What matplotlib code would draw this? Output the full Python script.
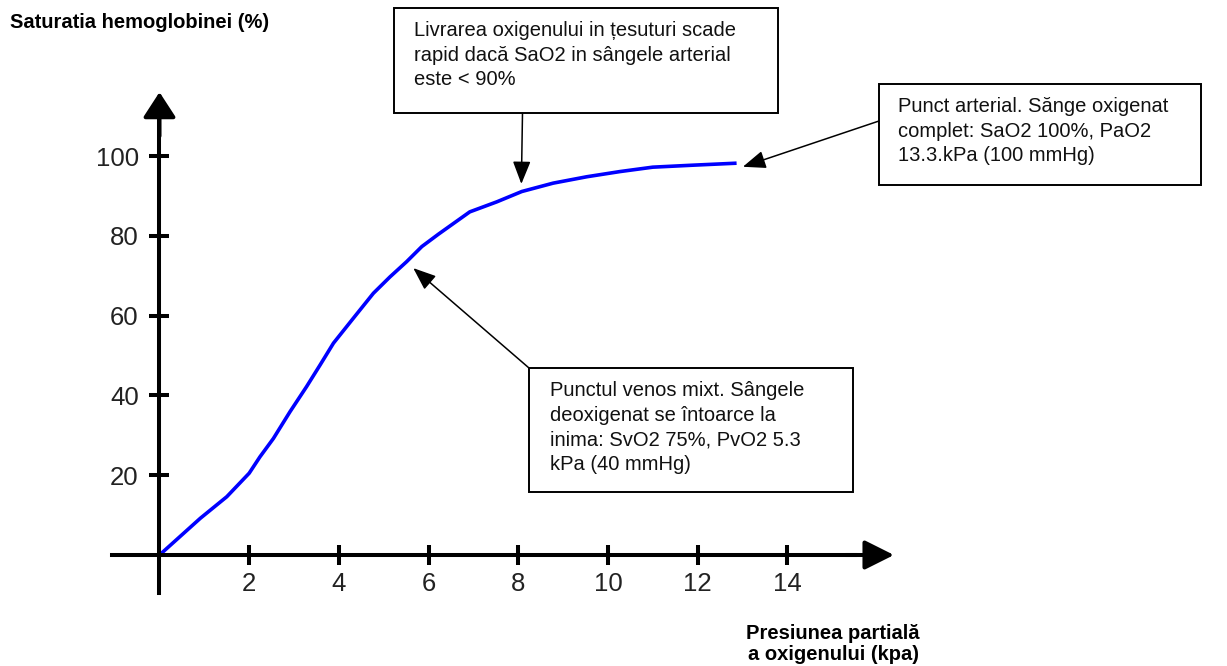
import matplotlib
matplotlib.use('Agg')
import matplotlib.pyplot as plt
from matplotlib.patches import Rectangle

# curba de disociere a oxihemoglobinei
po2 = [0, 0.91, 1.50, 2.0, 2.24, 2.54, 2.91, 3.28, 3.58, 3.88, 4.32, 4.77, 5.14,
       5.51, 5.85, 6.22, 6.92, 7.52, 8.08, 8.78, 9.53, 10.27, 11.0, 11.9, 12.87]
sat = [0, 9.2, 14.6, 20.5, 24.6, 29.2, 35.9, 42.2, 47.6, 53.1, 59.3, 65.6, 69.7,
       73.5, 77.3, 80.4, 86.0, 88.5, 91.1, 93.2, 94.8, 96.1, 97.2, 97.7, 98.2]

xticks = [2, 4, 6, 8, 10, 12, 14]
yticks = [20, 40, 60, 80, 100]

ylabel = 'Saturatia hemoglobinei (%)'
xlabel = 'Presiunea partială\na oxigenului (kpa)'
txt_sus = 'Livrarea oxigenului in țesuturi scade\nrapid dacă SaO2 in sângele arterial\neste < 90%'
txt_art = 'Punct arterial. Sănge oxigenat\ncomplet: SaO2 100%, PaO2\n13.3.kPa (100 mmHg)'
txt_ven = 'Punctul venos mixt. Sângele\ndeoxigenat se întoarce la\ninima: SvO2 75%, PvO2 5.3\nkPa (40 mmHg)'

plt.rcParams['font.family'] = ['Liberation Sans', 'DejaVu Sans']

W, H = 1227, 666
fig = plt.figure(figsize=(W / 100, H / 100), dpi=100)
ax = fig.add_axes([0, 0, 1, 1])
ax.patch.set_alpha(0)

# limite alese ca sa potriveasca pozitia axelor din figura
x0, sx = 159.5, 44.84
y0, sy = 555, 3.99
ax.set_xlim(-x0 / sx, (W - x0) / sx)
ax.set_ylim(-(H - y0) / sy, y0 / sy)


def fx(px):
    return px / W


def fy(py):
    return 1 - py / H


lw_ax = 2.9
for s in ['top', 'right']:
    ax.spines[s].set_visible(False)
ax.spines['left'].set_position(('data', 0))
ax.spines['bottom'].set_position(('data', 0))
ax.spines['left'].set_bounds(-9.6, 110)
ax.spines['bottom'].set_bounds(-1.05, 15.5)
ax.spines['left'].set_linewidth(lw_ax)
ax.spines['bottom'].set_linewidth(lw_ax)

ax.set_xticks(xticks)
ax.set_yticks(yticks)
ax.tick_params(direction='inout', length=15, width=lw_ax,
               labelsize=18.5, labelcolor='#222222')
ax.tick_params(axis='y', pad=7.5)
ax.tick_params(axis='x', pad=5)

# varfuri de sageata pe axe
ax.annotate('', xy=(0, 116), xytext=(0, 105),
            arrowprops=dict(arrowstyle='-|>,head_length=0.77,head_width=0.5',
                            mutation_scale=20, lw=lw_ax, color='black',
                            shrinkA=0, shrinkB=0))
ax.annotate('', xy=(16.38, 0), xytext=(15.3, 0),
            arrowprops=dict(arrowstyle='-|>,head_length=0.9,head_width=0.45',
                            mutation_scale=20, lw=lw_ax, color='black',
                            shrinkA=0, shrinkB=0))

ax.plot(po2, sat, color='#0000ff', linewidth=2.6, solid_capstyle='butt',
        solid_joinstyle='round')

# casete cu text
casete = [
    (394, 8, 778, 113, txt_sus, 414),
    (879, 84, 1201, 185, txt_art, 898),
    (529, 368, 853, 492, txt_ven, 550),
]
for l, t, r, b, txt, tx in casete:
    fig.patches.append(Rectangle((fx(l), fy(b)), fx(r) - fx(l), fy(t) - fy(b),
                                 transform=fig.transFigure, fill=False,
                                 edgecolor='black', linewidth=1.4))
    fig.text(fx(tx), fy(t + 13), txt, fontsize=14.5, ha='left', va='top',
             linespacing=1.38, color='#111111')

arr = dict(arrowstyle='-|>,head_length=1.4,head_width=0.55', mutation_scale=10,
           lw=1.1, color='black', shrinkA=0, shrinkB=0)
ax.annotate('', xy=(8.07, 93.0), xytext=(fx(522.5), fy(113)),
            textcoords='figure fraction', arrowprops=arr)
ax.annotate('', xy=(13.01, 97.3), xytext=(fx(879), fy(121)),
            textcoords='figure fraction', arrowprops=arr)
ax.annotate('', xy=(5.66, 71.9), xytext=(fx(529), fy(368)),
            textcoords='figure fraction', arrowprops=arr)

fig.text(fx(10), fy(23), ylabel, fontsize=14.5, fontweight='bold',
         ha='left', va='center')
fig.text(fx(833), fy(644), xlabel, fontsize=14.5, fontweight='bold',
         ha='center', va='center', linespacing=1.1)

fig.savefig('out.png', dpi=100)
